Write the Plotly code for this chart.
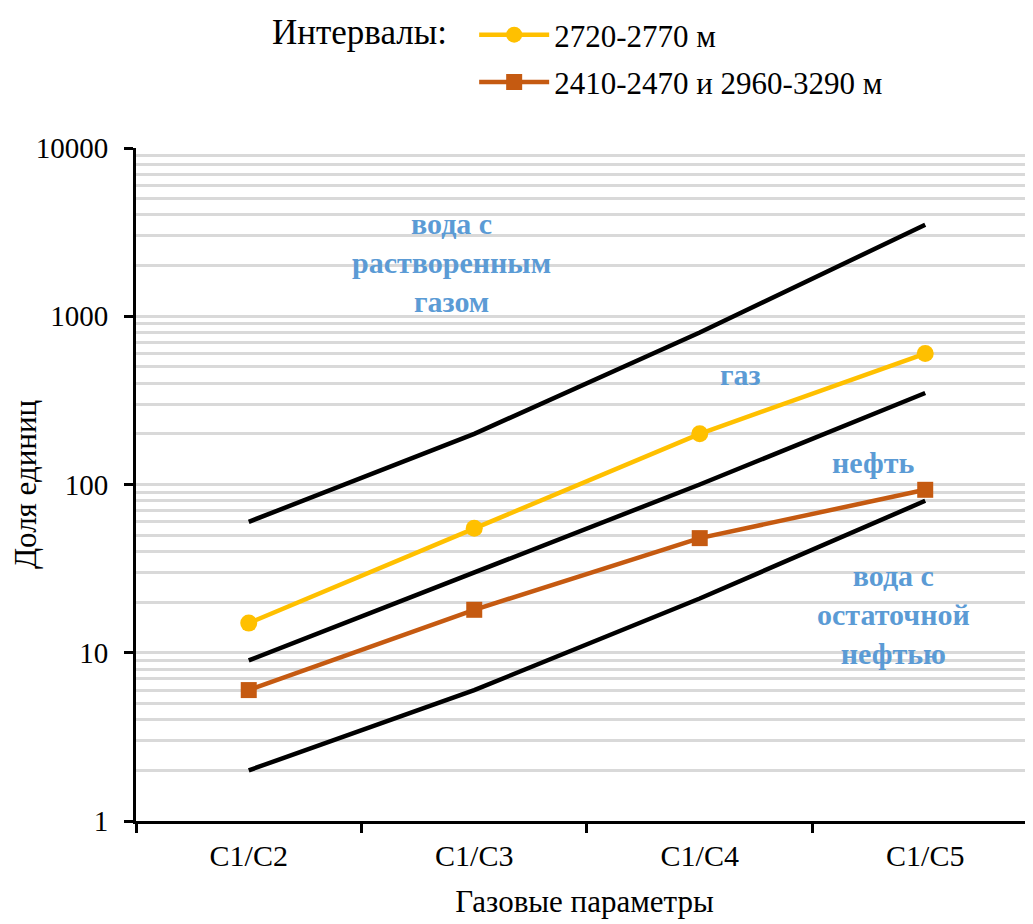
import numpy as np
import plotly.graph_objects as go

categories = ["C1/C2", "C1/C3", "C1/C4", "C1/C5"]
upper_bound = [60, 200, 800, 3500]
middle_bound = [9, 30, 100, 350]
lower_bound = [2, 6, 21, 80]
series_2720 = [15, 55, 200, 600]
series_2410 = [6, 18, 48, 93]
series_names = ["2720-2770 м", "2410-2470 и 2960-3290 м"]
legend_title = "Интервалы:"

FONT = "Liberation Serif, Times New Roman, serif"
BLUE = "#5B9BD5"

fig = go.Figure()
for vals in (upper_bound, middle_bound, lower_bound):
    fig.add_trace(go.Scatter(x=categories, y=vals, mode="lines",
                             line=dict(color="black", width=4.5),
                             showlegend=False, hoverinfo="skip"))

fig.add_trace(go.Scatter(x=categories, y=series_2720, mode="lines+markers",
                         name=series_names[0], legendgroup="a",
                         line=dict(color="#FFC000", width=4.5),
                         marker=dict(symbol="circle", size=17, color="#FFC000")))
fig.add_trace(go.Scatter(x=categories, y=series_2410, mode="lines+markers",
                         name=series_names[1], legendgroup="b",
                         line=dict(color="#C55A11", width=4.5),
                         marker=dict(symbol="square", size=16, color="#C55A11")))

annotations = [
    ("вода с<br>растворенным<br>газом", 0.9, 2090),
    ("газ", 2.18, 450),
    ("нефть", 2.77, 136),
    ("вода с<br>остаточной<br>нефтью", 2.86, 16.9),
]
for text, xi, yv in annotations:
    fig.add_annotation(x=xi, y=np.log10(yv), xref="x", yref="y", text=text,
                       showarrow=False,
                       font=dict(family=FONT, size=30, color=BLUE, weight="bold"))

fig.add_annotation(x=0.1494, y=1.172, xref="paper", yref="paper",
                   xanchor="left", yanchor="middle", text=legend_title,
                   showarrow=False, font=dict(family=FONT, size=35, color="black"))

fig.update_layout(
    width=1025, height=916,
    margin=dict(l=128, r=0, t=136, b=103),
    paper_bgcolor="white", plot_bgcolor="white",
    font=dict(family=FONT, size=30, color="black"),
    legend=dict(
        x=0.377, y=1.208, xanchor="left", yanchor="top",
        orientation="v", tracegroupgap=4, itemwidth=70,
        font=dict(size=31), bgcolor="rgba(0,0,0,0)",
    ),
    xaxis=dict(
        type="category", range=[-0.5, 3.478], automargin=False,
        showline=True, linecolor="black", linewidth=3,
        ticks="outside", ticklen=9, tickwidth=3, tickcolor="black",
        tickson="boundaries", showgrid=False,
        ticklabelstandoff=6,
        title=dict(text="Газовые параметры", font=dict(size=31), standoff=20),
        tickfont=dict(size=30),
    ),
    yaxis=dict(
        type="log", range=[0, 4], automargin=False,
        showline=True, linecolor="black", linewidth=3,
        ticks="outside", ticklen=9, tickwidth=3, tickcolor="black",
        tickvals=[1, 10, 100, 1000, 10000],
        ticktext=["1", "10", "100", "1000", "10000"],
        ticklabelstandoff=10,
        showgrid=True, gridcolor="#D9D9D9", gridwidth=2.5,
        minor=dict(dtick="D1", showgrid=True, gridcolor="#D9D9D9", gridwidth=2.5, ticks=""),
        title=dict(text="Доля единиц", font=dict(size=31), standoff=9),
        tickfont=dict(size=29),
        zeroline=False,
    ),
)

fig.write_html("out.html")
